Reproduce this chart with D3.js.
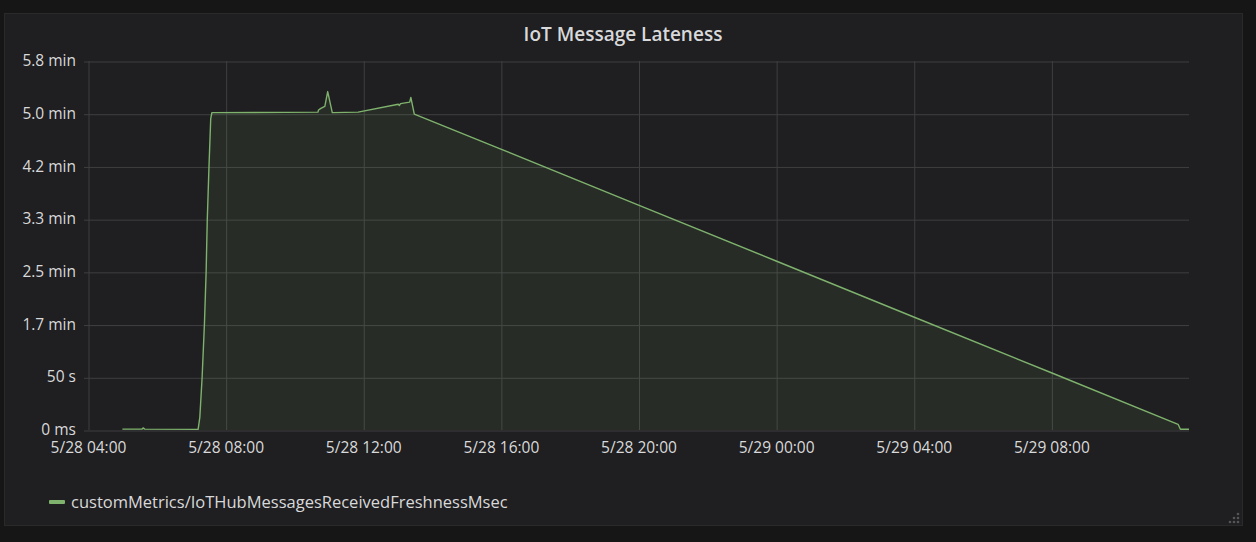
<!DOCTYPE html>
<html>
<head>
<meta charset="utf-8">
<script src="https://cdn.jsdelivr.net/npm/d3@7"></script>
<style>
  html, body { margin: 0; padding: 0; background: #161616; }
  svg { display: block; }
  text { font-family: "Open Sans", "Noto Sans", sans-serif; }
</style>
</head>
<body>
<svg id="chart" width="1256" height="542"></svg>
<script>
// ---- data (times UTC, values in seconds) ----
const times = [
  "2017-05-28T05:00", "2017-05-28T05:34", "2017-05-28T05:36", "2017-05-28T05:39",
  "2017-05-28T07:12", "2017-05-28T07:15", "2017-05-28T07:19", "2017-05-28T07:23",
  "2017-05-28T07:26", "2017-05-28T07:28", "2017-05-28T07:31", "2017-05-28T07:34",
  "2017-05-28T07:36", "2017-05-28T10:41", "2017-05-28T10:42", "2017-05-28T10:46",
  "2017-05-28T10:53", "2017-05-28T10:58", "2017-05-28T11:06", "2017-05-28T11:51",
  "2017-05-28T13:01", "2017-05-28T13:03", "2017-05-28T13:05", "2017-05-28T13:21",
  "2017-05-28T13:23", "2017-05-28T13:29", "2017-05-28T16:00", "2017-05-28T20:00",
  "2017-05-29T00:00", "2017-05-29T04:00", "2017-05-29T08:00", "2017-05-29T11:41",
  "2017-05-29T11:45", "2017-05-29T12:00"
];
const values = [
  0.8, 0.8, 2.0, 0.8,
  0.6, 12, 50, 100,
  150, 200, 250, 295,
  301, 301.5, 303.5, 305,
  307, 321, 301, 301.5,
  309, 307.8, 309.6, 311,
  315.5, 299.7, 266.5, 213.3,
  160.3, 107.2, 54.3, 5.4,
  0.7, 0.7
];
const yTickValues = [0, 50, 100, 150, 200, 250, 300, 350];
const yTickLabels = ["0 ms", "50 s", "1.7 min", "2.5 min", "3.3 min", "4.2 min", "5.0 min", "5.8 min"];
const xDomain = ["2017-05-28T04:00", "2017-05-29T12:00"];
const title = "IoT Message Lateness";
const seriesName = "customMetrics/IoTHubMessagesReceivedFreshnessMsec";

// ---- setup ----
const parse = s => new Date(s + ":00Z");
const data = times.map((t, i) => ({ t: parse(t), v: values[i] }));

const svg = d3.select("#chart");
const W = 1256, H = 542;
const plot = { left: 88, right: 1189, top: 61, bottom: 430 };

svg.append("rect").attr("width", W).attr("height", H).attr("fill", "#161616");
svg.append("rect")
  .attr("x", 4.5).attr("y", 13.5).attr("width", 1238).attr("height", 512)
  .attr("fill", "#1f1e20").attr("stroke", "#2a2a2b");

svg.append("text")
  .attr("x", 623).attr("y", 41)
  .attr("text-anchor", "middle")
  .attr("fill", "#d8d9da")
  .attr("font-size", 19).attr("font-weight", 600)
  .text(title);

const x = d3.scaleUtc().domain(xDomain.map(parse)).range([plot.left, plot.right]);
const y = d3.scaleLinear().domain([0, 350]).range([plot.bottom, plot.top]);

const gridColor = "#3f3f40";

// horizontal grid / y axis
const yAxis = d3.axisLeft(y)
  .tickValues(yTickValues)
  .tickFormat((d, i) => yTickLabels[i])
  .tickSize(-(plot.right - plot.left) - 4)
  .tickPadding(8);
const gy = svg.append("g").attr("transform", `translate(${plot.left - 4},0)`).call(yAxis);
gy.select(".domain").remove();
gy.selectAll("line").attr("stroke", gridColor).attr("transform", "translate(0,0.5)");
gy.selectAll("text").attr("fill", "#d8d9da").attr("font-size", 15.5).attr("dy", "0.3em");

// vertical grid / x axis
const xAxis = d3.axisBottom(x)
  .ticks(d3.utcHour.every(4))
  .tickFormat(d3.utcFormat("%-m/%d %H:%M"))
  .tickSize(-(plot.bottom - plot.top))
  .tickPadding(12);
const gx = svg.append("g").attr("transform", `translate(0,${plot.bottom})`).call(xAxis);
gx.select(".domain").remove();
gx.selectAll("line").attr("stroke", gridColor).attr("transform", "translate(0.5,0)");
gx.selectAll("text").attr("fill", "#d8d9da").attr("font-size", 15.5);
gx.selectAll(".tick").filter(d => +d === +x.domain()[1]).remove();

// area + line
const color = "#7eb26d";
const area = d3.area().x(d => x(d.t)).y0(y(0)).y1(d => y(d.v));
const line = d3.line().x(d => x(d.t)).y(d => y(d.v));
svg.append("path").datum(data).attr("d", area).attr("fill", color).attr("fill-opacity", 0.1);
svg.append("path").datum(data).attr("d", line)
  .attr("fill", "none").attr("stroke", color).attr("stroke-width", 1.4)
  .attr("stroke-linejoin", "round");

// legend
svg.append("rect").attr("x", 49).attr("y", 500).attr("width", 16).attr("height", 4)
  .attr("rx", 1).attr("fill", color);
svg.append("text").attr("x", 71).attr("y", 508)
  .attr("fill", "#d8d9da").attr("font-size", 16.5)
  .text(seriesName);

// resize handle dots
const dots = [[1238,514],[1234,518],[1238,518],[1230,522],[1234,522],[1238,522]];
svg.selectAll("circle.handle").data(dots).enter().append("circle")
  .attr("cx", d => d[0]).attr("cy", d => d[1]).attr("r", 1.3).attr("fill", "#555");
</script>
</body>
</html>
